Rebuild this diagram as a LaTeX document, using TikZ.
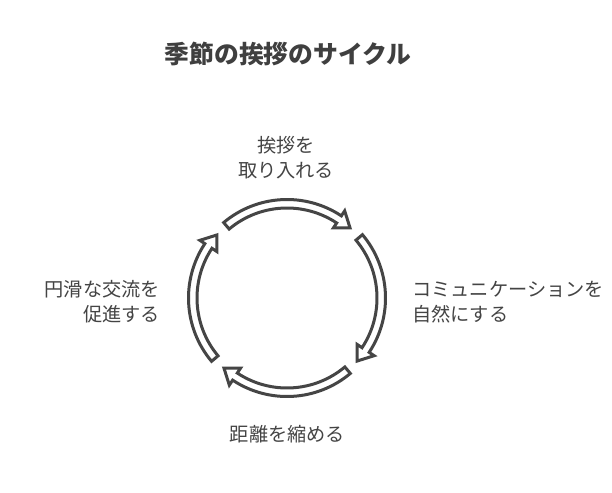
\documentclass[tikz,border=0pt]{standalone}
\usepackage{fontspec}
\setmainfont{Noto Sans CJK JP}
\begin{document}
\begin{tikzpicture}[x=1pt,y=-1pt,
  band/.style={draw=arrowgray,fill=white,line width=3pt,line join=miter},
  label/.style={text=textgray,font=\fontsize{19.2}{25}\selectfont,inner sep=0pt},
  titletext/.style={text=titlegray,font=\fontsize{24.8}{30}\selectfont\bfseries,inner sep=0pt}]
\definecolor{arrowgray}{HTML}{454545}
\definecolor{textgray}{HTML}{444444}
\definecolor{titlegray}{HTML}{3F3F3F}
\useasboundingbox[fill=white] (0,0) rectangle (612,492);
\node[titletext] (title) at (288,54) {季節の挨拶のサイクル};
\begin{scope}[shift={(287,298)},x=1pt,y=1pt]
\foreach \a/\b in {130/48, 40/-42, -50/-132, -140/-222}{
  \pgfmathsetmacro{\c}{\b+8.5}
  \draw[band] (\a:98.5) arc[start angle=\a, end angle=\c, radius=98.5]
    -- (\c:104.5) -- (\b:94.25) -- (\c:84) -- (\c:90)
    arc[start angle=\c, end angle=\a, radius=90] -- cycle;
}
\end{scope}
\node[label,align=center] (top) at (286,158) {挨拶を\\取り入れる};
\node[label,align=left,anchor=west] (right) at (412,302) {コミュニケーションを\\自然にする};
\node[label,align=right,anchor=east] (left) at (160,302) {円滑な交流を\\促進する};
\node[label] (bottom) at (287.5,434) {距離を縮める};
\end{tikzpicture}
\end{document}
